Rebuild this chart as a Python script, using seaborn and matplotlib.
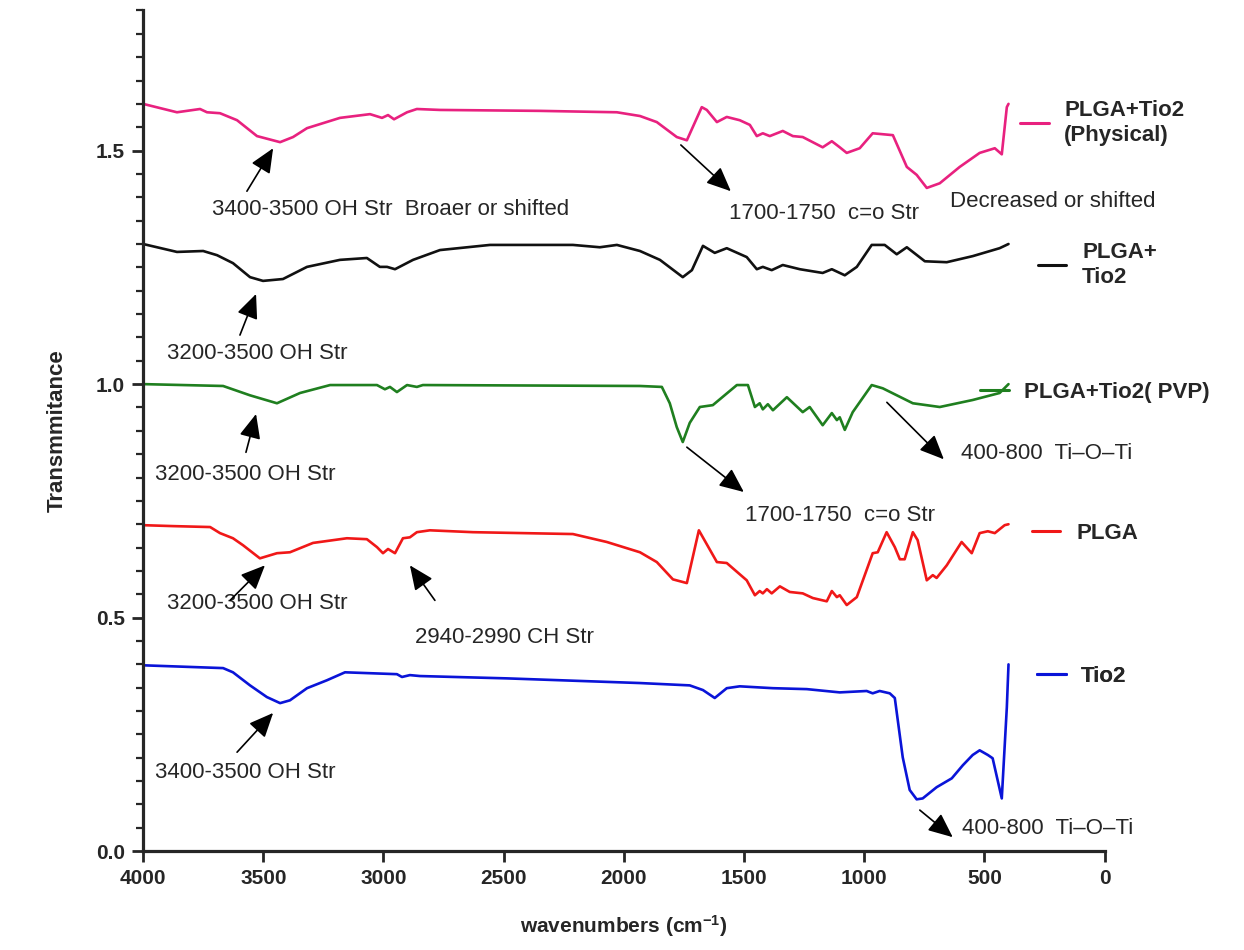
"""FTIR spectra of PLGA / TiO2 samples, stacked with band annotations."""
import matplotlib
matplotlib.use("Agg")
import matplotlib.pyplot as plt
from matplotlib.lines import Line2D
from matplotlib.ticker import MultipleLocator
import pandas as pd
import seaborn as sns

# wavenumber (cm-1) / transmittance pairs
PHYS_WN = [4000, 3859, 3763, 3734, 3680, 3609, 3526, 3430, 3376, 3318, 3181, 3056, 3006, 2981, 2956,
           2902, 2861, 2765, 2349, 2029, 1933, 1863, 1780, 1738, 1676, 1655, 1613, 1572, 1518, 1476,
           1447, 1422, 1393, 1339, 1297, 1256, 1173, 1135, 1102, 1073, 1019, 965, 881, 823, 782, 740,
           686, 603, 520, 457, 428, 407, 400]
PHYS_T = [1.600, 1.582, 1.589, 1.582, 1.580, 1.565, 1.531, 1.518, 1.529, 1.548, 1.570, 1.578, 1.570,
          1.576, 1.567, 1.582, 1.589, 1.587, 1.585, 1.582, 1.574, 1.561, 1.529, 1.522, 1.593, 1.587,
          1.561, 1.572, 1.565, 1.555, 1.531, 1.537, 1.531, 1.542, 1.531, 1.529, 1.507, 1.520, 1.507,
          1.495, 1.505, 1.537, 1.533, 1.465, 1.448, 1.420, 1.430, 1.465, 1.495, 1.505, 1.492, 1.593, 1.600]

MIX_WN = [4000, 3859, 3750, 3692, 3626, 3555, 3501, 3418, 3318, 3181, 3069, 3015, 2985, 2952, 2877,
          2765, 2557, 2212, 2100, 2029, 1933, 1850, 1755, 1717, 1671, 1622, 1572, 1489, 1447, 1422,
          1385, 1339, 1268, 1173, 1135, 1081, 1031, 969, 915, 865, 823, 748, 657, 549, 437, 400]
MIX_T = [1.300, 1.283, 1.285, 1.276, 1.259, 1.229, 1.221, 1.225, 1.251, 1.266, 1.270, 1.251, 1.251,
         1.246, 1.266, 1.287, 1.298, 1.298, 1.293, 1.298, 1.285, 1.266, 1.229, 1.244, 1.296, 1.281,
         1.291, 1.272, 1.246, 1.251, 1.244, 1.255, 1.246, 1.238, 1.246, 1.233, 1.251, 1.298, 1.298,
         1.278, 1.293, 1.263, 1.261, 1.274, 1.291, 1.300]

PVP_WN = [4000, 3667, 3555, 3443, 3347, 3222, 3027, 2994, 2973, 2944, 2902, 2861, 2836, 1933, 1842,
          1809, 1780, 1755, 1726, 1684, 1630, 1530, 1484, 1455, 1435, 1422, 1401, 1380, 1322, 1256,
          1227, 1173, 1135, 1114, 1102, 1081, 1048, 969, 923, 798, 686, 549, 437, 400]
PVP_T = [1.000, 0.996, 0.976, 0.959, 0.981, 0.998, 0.998, 0.989, 0.994, 0.983, 0.998, 0.994, 0.998,
         0.996, 0.994, 0.959, 0.908, 0.876, 0.917, 0.951, 0.955, 0.998, 0.998, 0.951, 0.959, 0.946,
         0.957, 0.944, 0.972, 0.940, 0.951, 0.912, 0.938, 0.923, 0.929, 0.902, 0.940, 0.998, 0.991,
         0.959, 0.951, 0.966, 0.981, 1.000]

PLGA_WN = [4000, 3875, 3721, 3680, 3626, 3584, 3514, 3443, 3389, 3293, 3152, 3069, 3027, 3002, 2981,
           2952, 2919, 2890, 2861, 2807, 2628, 2212, 2071, 1933, 1863, 1796, 1738, 1688, 1613, 1572,
           1489, 1455, 1435, 1422, 1405, 1385, 1351, 1310, 1256, 1214, 1156, 1135, 1114, 1102, 1073,
           1031, 965, 944, 907, 873, 852, 832, 798, 778, 740, 715, 699, 657, 595, 553, 520, 486, 457,
           416, 400]
PLGA_T = [0.698, 0.696, 0.694, 0.681, 0.670, 0.655, 0.627, 0.638, 0.640, 0.660, 0.670, 0.668, 0.651,
          0.638, 0.647, 0.638, 0.670, 0.672, 0.683, 0.687, 0.683, 0.679, 0.662, 0.640, 0.619, 0.582,
          0.574, 0.687, 0.619, 0.617, 0.580, 0.548, 0.557, 0.552, 0.561, 0.552, 0.567, 0.555, 0.552,
          0.542, 0.535, 0.557, 0.544, 0.548, 0.527, 0.544, 0.638, 0.640, 0.683, 0.651, 0.625, 0.625,
          0.683, 0.666, 0.580, 0.591, 0.585, 0.612, 0.662, 0.638, 0.681, 0.685, 0.681, 0.698, 0.700]

TIO2_WN = [4000, 3667, 3626, 3555, 3485, 3430, 3389, 3318, 3235, 3160, 2944, 2923, 2890, 2848, 2486,
           1933, 1726, 1671, 1622, 1572, 1518, 1380, 1239, 1102, 990, 965, 936, 894, 873, 840, 811,
           782, 757, 699, 636, 590, 549, 520, 486, 466, 428, 407, 400]
TIO2_T = [0.398, 0.392, 0.383, 0.355, 0.330, 0.317, 0.323, 0.349, 0.366, 0.383, 0.379, 0.373, 0.377,
          0.375, 0.370, 0.360, 0.355, 0.345, 0.328, 0.349, 0.353, 0.349, 0.347, 0.340, 0.343, 0.338,
          0.343, 0.338, 0.328, 0.201, 0.131, 0.111, 0.113, 0.137, 0.156, 0.184, 0.206, 0.216, 0.206,
          0.199, 0.113, 0.308, 0.400]

SERIES = ["PLGA+Tio2\n(Physical)", "PLGA+\nTio2", "PLGA+Tio2( PVP)", "PLGA", "Tio2"]
COLORS = ["#e8217f", "#111111", "#1f7f1f", "#f01818", "#0a14d8"]
# where each curve label sits (wavenumber, transmittance)
LABEL_POS = [(353, 1.559), (279, 1.255), (520, 0.983), (304, 0.681), (283, 0.375)]

# band annotations: text, text anchor, arrow tail, arrow head
NOTES = [
    ("3400-3500 OH Str  Broaer or shifted", (3713, 1.373), (3568, 1.413), (3459, 1.505)),
    ("1700-1750  c=o Str", (1563, 1.366), (1763, 1.512), (1555, 1.413)),
    ("Decreased or shifted", (644, 1.390), None, None),
    ("3200-3500 OH Str", (3900, 1.066), (3597, 1.105), (3530, 1.193)),
    ("3200-3500 OH Str", (3950, 0.807), (3572, 0.854), (3530, 0.936)),
    ("1700-1750  c=o Str", (1497, 0.719), (1738, 0.865), (1501, 0.769)),
    ("400-800  Ti\u2013O\u2013Ti", (599, 0.852), (906, 0.961), (669, 0.839)),
    ("3200-3500 OH Str", (3900, 0.531), (3638, 0.537), (3493, 0.612)),
    ("2940-2990 CH Str", (2869, 0.458), (2786, 0.537), (2890, 0.612)),
    ("3400-3500 OH Str", (3950, 0.169), (3609, 0.212), (3459, 0.296)),
    ("400-800  Ti\u2013O\u2013Ti", (595, 0.049), (769, 0.088), (632, 0.030)),
]


def main():
    sns.set_style("ticks")
    plt.rcParams["font.family"] = ["Liberation Sans", "DejaVu Sans"]
    plt.rcParams["mathtext.default"] = "regular"

    frames = []
    for name, wn, t in zip(SERIES,
                           [PHYS_WN, MIX_WN, PVP_WN, PLGA_WN, TIO2_WN],
                           [PHYS_T, MIX_T, PVP_T, PLGA_T, TIO2_T]):
        frames.append(pd.DataFrame({"wn": wn, "t": t, "sample": name}))
    df = pd.concat(frames, ignore_index=True)

    fig = plt.figure(figsize=(12.44, 9.5), dpi=100)
    ax = fig.add_axes([0.115, 0.104, 0.773, 0.885])
    sns.lineplot(data=df, x="wn", y="t", hue="sample", palette=dict(zip(SERIES, COLORS)),
                 sort=False, estimator=None, lw=1.9, legend=False, ax=ax)

    ax.set_xlim(4000, 0)
    ax.set_ylim(0, 1.8)
    ax.xaxis.set_major_locator(MultipleLocator(500))
    ax.yaxis.set_major_locator(MultipleLocator(0.5))
    ax.yaxis.set_minor_locator(MultipleLocator(0.05))
    ax.yaxis.set_major_formatter(matplotlib.ticker.FormatStrFormatter("%.1f"))
    sns.despine(ax=ax)
    for s in ("left", "bottom"):
        ax.spines[s].set_linewidth(2.3)
    ax.tick_params(axis="both", which="major", length=8, width=2, labelsize=15, pad=5)
    ax.tick_params(axis="y", which="minor", length=5, width=1.6)
    for lab in ax.get_xticklabels() + ax.get_yticklabels():
        lab.set_fontweight("bold")

    ax.set_xlabel("wavenumbers (cm$^{-1}$)", fontsize=15, fontweight="bold", labelpad=18)
    ax.set_ylabel("Transmmitance", fontsize=16, fontweight="bold", labelpad=20)

    for text, pos, tail, head in NOTES:
        ax.text(pos[0], pos[1], text, fontsize=16, va="center", ha="left")
        if tail is not None:
            ax.annotate("", xy=head, xytext=tail,
                        arrowprops=dict(arrowstyle="-|>,head_length=0.5,head_width=0.22",
                                        color="black", lw=1.2, mutation_scale=30,
                                        shrinkA=0, shrinkB=0))

    for name, color, pos in zip(SERIES, COLORS, LABEL_POS):
        handle = Line2D([], [], color=color, lw=2.2)
        leg = ax.legend([handle], [name], loc="center left", bbox_to_anchor=pos,
                        bbox_transform=ax.transData, frameon=False, borderpad=0,
                        borderaxespad=0, handlelength=1.3, handletextpad=0.7,
                        prop=dict(size=16, weight="bold"))
        ax.add_artist(leg)

    fig.savefig("out.png", dpi=100)


if __name__ == "__main__":
    main()
